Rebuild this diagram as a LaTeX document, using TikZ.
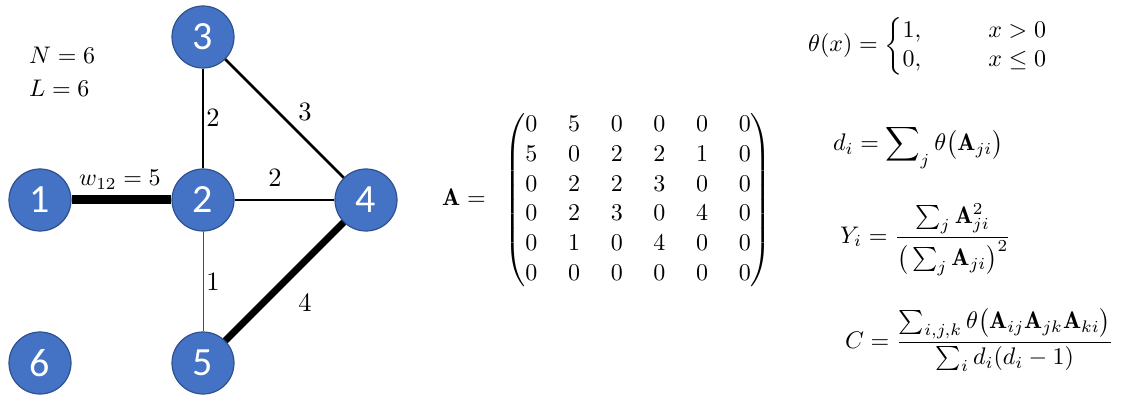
\documentclass[tikz,border=0pt]{standalone}
\usepackage{amsmath}
\usepackage{graphicx}
\usepackage{fontspec}
\newfontfamily\calibri{Carlito}
\definecolor{nodefill}{RGB}{68,114,196}
\definecolor{nodeline}{RGB}{47,82,143}
\newcommand{\bigtxt}[1]{\scalebox{2.4}{#1}}
\newcommand{\edgetxt}[1]{\scalebox{2.65}{#1}}
\tikzset{
  vert/.style={circle, fill=nodefill, draw=nodeline, line width=1.2pt, minimum size=62pt, inner sep=0pt,
    text=white, font=\calibri\fontsize{40}{40}\selectfont},
  elabel/.style={inner sep=0pt},
  mathtxt/.style={inner sep=0pt},
}
\begin{document}
\begin{tikzpicture}[x=1pt,y=-1pt]
\useasboundingbox (0,0) rectangle (1132,398);
% vertices
\node[vert] (n1) at (40,200) {1};
\node[vert] (n2) at (203,200) {2};
\node[vert] (n3) at (203,37) {3};
\node[vert] (n4) at (366,200) {4};
\node[vert] (n5) at (203,363) {5};
\node[vert] (n6) at (40,363) {6};
% edges
\draw[line width=9pt] (n1) -- (n2);
\draw[line width=1.8pt] (n2) -- (n3);
\draw[line width=2.5pt] (n3) -- (n4);
\draw[line width=2.5pt] (n2) -- (n4);
\draw[line width=0.6pt, black!70] (n2) -- (n5);
\draw[line width=7pt] (n4) -- (n5);
% edge labels
\node[elabel] (l23) at (213,118) {\edgetxt{2}};
\node[elabel] (l34) at (305,112) {\edgetxt{3}};
\node[elabel] (l24) at (275,178) {\edgetxt{2}};
\node[elabel] (l25) at (213,282) {\edgetxt{1}};
\node[elabel] (l45) at (305,303) {\edgetxt{4}};
\node[mathtxt] (w12) at (120,180) {\bigtxt{$w_{12}=5$}};
\node[mathtxt, anchor=west] (NN) at (29,55) {\bigtxt{$N=6$}};
\node[mathtxt, anchor=west] (LL) at (29,88) {\bigtxt{$L=6$}};
% matrix
\node[mathtxt, anchor=west] (mat) at (442,200) {\bigtxt{$\mathbf{A}=\hspace{5pt}
{\renewcommand{\arraystretch}{1.04}\setlength{\arraycolsep}{6.4pt}
\begin{pmatrix}
0 & 5 & 0 & 0 & 0 & 0\\
5 & 0 & 2 & 2 & 1 & 0\\
0 & 2 & 2 & 3 & 0 & 0\\
0 & 2 & 3 & 0 & 4 & 0\\
0 & 1 & 0 & 4 & 0 & 0\\
0 & 0 & 0 & 0 & 0 & 0
\end{pmatrix}}$}};
% formulas
\node[mathtxt, anchor=west] (theta) at (808,46) {\bigtxt{$\theta(x)=\biggl\{{\renewcommand{\arraystretch}{1.04}\begin{array}{@{}l@{\hspace{28pt}}l}1, & x>0\\ 0, & x\le 0\end{array}}$}};
\node[mathtxt, anchor=west] (deg) at (833,147) {\bigtxt{$\displaystyle d_i=\sum\nolimits_j\theta\big(\mathbf{A}_{ji}\big)$}};
\node[mathtxt, anchor=west] (Y) at (840,240) {\bigtxt{$\displaystyle Y_i=\frac{\sum_j \mathbf{A}_{ji}^2}{\big(\sum_j\mathbf{A}_{ji}\big)^2}$}};
\node[mathtxt, anchor=west] (C) at (845,340) {\bigtxt{$\displaystyle C=\frac{\sum_{i,j,k}\theta\big(\mathbf{A}_{ij}\mathbf{A}_{jk}\mathbf{A}_{ki}\big)}{\sum_i d_i(d_i-1)}$}};
\end{tikzpicture}
\end{document}
